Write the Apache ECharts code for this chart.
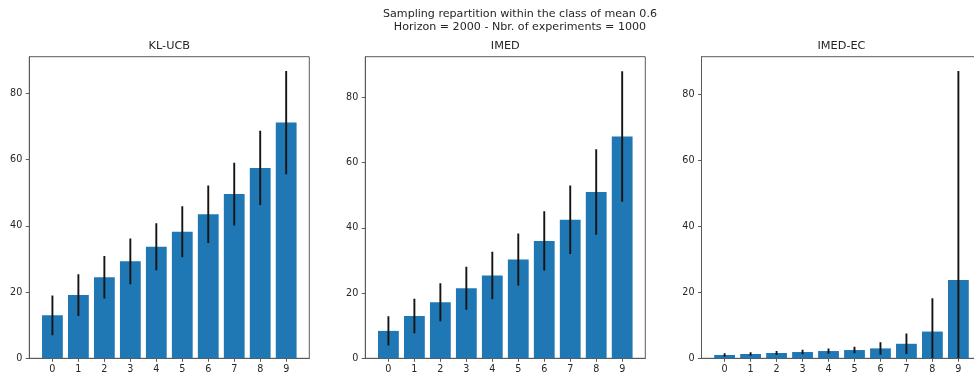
<!DOCTYPE html>
<html>
<head>
<meta charset="utf-8">
<script src="https://cdn.jsdelivr.net/npm/echarts@6/dist/echarts.min.js"></script>
<style>html,body{margin:0;padding:0;background:#fff;overflow:hidden;width:974px;height:375px;}#c{width:990px;height:375px;}</style>
</head>
<body>
<div id="c"></div>
<script>
const categories = [0, 1, 2, 3, 4, 5, 6, 7, 8, 9];
const yTicks = [0, 20, 40, 60, 80];
const panelTitles = ['KL-UCB', 'IMED', 'IMED-EC'];
const suptitle = 'Sampling repartition within the class of mean 0.6\nHorizon = 2000 - Nbr. of experiments = 1000';

const klucbMean = [13.0, 19.1, 24.5, 29.3, 33.7, 38.2, 43.5, 49.6, 57.5, 71.2];
const klucbErr  = [6.0, 6.3, 6.4, 6.9, 7.1, 7.7, 8.7, 9.5, 11.2, 15.6];
const imedMean  = [8.4, 13.0, 17.2, 21.5, 25.4, 30.3, 36.0, 42.5, 51.0, 68.0];
const imedErr   = [4.5, 5.3, 5.8, 6.6, 7.3, 8.0, 9.1, 10.5, 13.1, 20.0];
const imedecMean = [1.0, 1.3, 1.6, 1.9, 2.2, 2.5, 3.0, 4.4, 8.1, 23.7];
const imedecErr  = [0.5, 0.5, 0.6, 0.7, 0.8, 1.0, 1.9, 3.1, 10.1, 63.4];

const panels = [
  {title: panelTitles[0], mean: klucbMean, err: klucbErr, left: 29.3, ymax: 91.1},
  {title: panelTitles[1], mean: imedMean, err: imedErr, left: 365.3, ymax: 92.5},
  {title: panelTitles[2], mean: imedecMean, err: imedecErr, left: 701.5, ymax: 91.4}
];

const TOP = 56.7, H = 301.6, W = 280;
const textColor = '#262626';
const spine = '#5a5a5a';
const font = 'DejaVu Sans';

const option = {
  animation: false,
  backgroundColor: '#fff',
  title: [
    {text: suptitle, left: 520, top: 8, padding: 0, textAlign: 'center',
     textStyle: {fontFamily: font, fontSize: 11.1, fontWeight: 'normal', color: textColor, lineHeight: 13, align: 'center'}}
  ].concat(panels.map(p => ({
    text: p.title, left: p.left + W / 2, top: 41, padding: 0, textAlign: 'center',
    textStyle: {fontFamily: font, fontSize: 11.3, fontWeight: 'normal', color: textColor}
  }))),
  grid: panels.map(p => ({left: p.left, top: TOP, width: W, height: H, show: true, borderColor: spine, borderWidth: 1, backgroundColor: 'transparent'})),
  xAxis: panels.map((p, i) => ({
    type: 'value', gridIndex: i, min: -0.89, max: 9.89,
    axisLine: {show: true, onZero: false, lineStyle: {color: spine, width: 1}},
    axisTick: {show: true, length: 3.5, customValues: categories, lineStyle: {color: spine}},
    axisLabel: {customValues: categories, margin: 6, fontFamily: font, fontSize: 9.6, color: textColor},
    splitLine: {show: false}
  })),
  yAxis: panels.map((p, i) => ({
    type: 'value', gridIndex: i, min: 0, max: p.ymax,
    axisLine: {show: true, onZero: false, lineStyle: {color: spine, width: 1}},
    axisTick: {show: true, length: 3.5, customValues: yTicks, lineStyle: {color: spine}},
    axisLabel: {customValues: yTicks, margin: 7, fontFamily: font, fontSize: 9.6, color: textColor},
    splitLine: {show: false}
  })),
  series: []
};

panels.forEach((p, i) => {
  option.series.push({
    type: 'bar', xAxisIndex: i, yAxisIndex: i,
    data: categories.map((c, k) => [c, p.mean[k]]),
    barWidth: 20.8,
    itemStyle: {color: '#1f77b4'},
    z: 2
  });
  option.series.push({
    type: 'custom', xAxisIndex: i, yAxisIndex: i,
    data: categories.map((c, k) => [c, Math.max(0, p.mean[k] - p.err[k]), p.mean[k] + p.err[k]]),
    renderItem: function (params, api) {
      const lo = api.coord([api.value(0), api.value(1)]);
      const hi = api.coord([api.value(0), api.value(2)]);
      return {type: 'line', shape: {x1: lo[0], y1: lo[1], x2: hi[0], y2: hi[1]},
              style: {stroke: '#141414', lineWidth: 1.9}};
    },
    clip: true,
    z: 3
  });
});

const chart = echarts.init(document.getElementById('c'), null, {renderer: 'canvas'});
chart.setOption(option);
</script>
</body>
</html>
